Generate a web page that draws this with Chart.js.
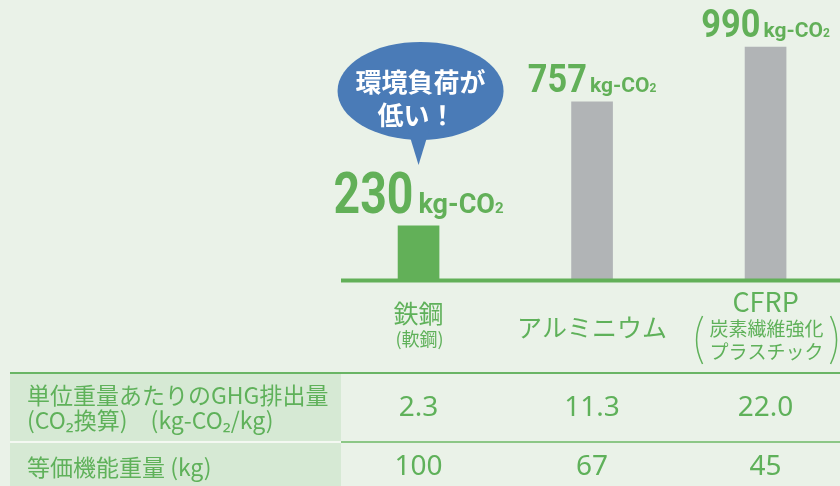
<!DOCTYPE html>
<html lang="ja">
<head>
<meta charset="utf-8">
<script src="https://cdn.jsdelivr.net/npm/chart.js@4"></script>
<style>
  html, body { margin: 0; padding: 0; background: #eaf2e8; }
  #wrap { position: relative; width: 840px; height: 486px; }
</style>
</head>
<body>
<div id="wrap"><canvas id="chart" width="840" height="486"></canvas></div>
<script>
const categories = ['鉄鋼', 'アルミニウム', 'CFRP'];
const categoryNotes = [['(軟鋼)'], [], ['炭素繊維強化', 'プラスチック']];
const emissions = [230, 757, 990];
const emissionUnit = 'kg-CO';
const rowTitles = [['単位重量あたりのGHG排出量', '(CO₂換算)\u3000(kg-CO₂/kg)'], ['等価機能重量 (kg)']];
const ghgPerKg = ['2.3', '11.3', '22.0'];
const equivWeight = ['100', '67', '45'];
const calloutText = ['環境負荷が', '低い！'];

(function () {
    /* ── Colours / fonts ───────────────────────────── */
    const GREEN = '#62b058';
    const GREY = '#b1b4b6';
    const TEXT = '#5fb15a';
    const BLUE = '#4a7bb7';
    const JP = '"Noto Sans CJK JP", "Noto Sans", sans-serif';
    const NUM = 'Roboto, "Noto Sans", sans-serif';

    function drawValue(ctx, x, baseY, value, big) {
        const numSize = big ? 58 : 39;
        const unitSize = big ? 27 : 21;
        const subSize = big ? 15 : 12;
        const squeeze = big ? 0.8 : 0.88;
        const gap = big ? 5 : 3;

        ctx.font = `bold ${numSize}px ${NUM}`;
        const numW = ctx.measureText(String(value)).width * squeeze;
        ctx.font = `bold ${unitSize}px ${NUM}`;
        const unitW = ctx.measureText(emissionUnit).width;
        ctx.font = `bold ${subSize}px ${NUM}`;
        const subW = ctx.measureText('2').width;

        let cx = x - (numW + gap + unitW + subW) / 2;
        ctx.fillStyle = GREEN;
        ctx.textAlign = 'left';
        ctx.textBaseline = 'alphabetic';

        ctx.save();
        ctx.translate(cx, baseY);
        ctx.scale(squeeze, 1);
        ctx.font = `bold ${numSize}px ${NUM}`;
        ctx.fillText(String(value), 0, 0);
        ctx.restore();
        cx += numW + gap;

        ctx.font = `bold ${unitSize}px ${NUM}`;
        ctx.fillText(emissionUnit, cx, baseY);
        cx += unitW;
        ctx.font = `bold ${subSize}px ${NUM}`;
        ctx.fillText('2', cx, baseY);
    }

    function drawCallout(ctx, tipX, tipY) {
        const cx = tipX + 2;
        const cy = tipY - 74;
        ctx.fillStyle = BLUE;
        ctx.beginPath();
        ctx.ellipse(cx, cy, 83, 49, 0, 0, Math.PI * 2);
        ctx.fill();
        ctx.beginPath();
        ctx.moveTo(tipX - 11, tipY - 36);
        ctx.lineTo(tipX + 11, tipY - 36);
        ctx.lineTo(tipX, tipY);
        ctx.closePath();
        ctx.fill();

        ctx.fillStyle = '#ffffff';
        ctx.textAlign = 'center';
        ctx.textBaseline = 'middle';
        ctx.font = `bold 26px ${JP}`;
        ctx.fillText(calloutText[0], cx, cy - 9);
        ctx.fillText(calloutText[1], cx - 4, cy + 24);
    }

    function drawParen(ctx, x, top, bottom, dir) {
        const mid = (top + bottom) / 2;
        ctx.beginPath();
        ctx.moveTo(x, top);
        ctx.quadraticCurveTo(x - dir * 12, mid, x, bottom);
        ctx.stroke();
    }

    const overlay = {
        id: 'overlay',
        afterDatasetsDraw(chart) {
            const { ctx, chartArea, scales } = chart;
            const xs = scales.x;
            const ys = scales.y;
            const base = ys.getPixelForValue(0);
            ctx.save();

            /* baseline */
            ctx.fillStyle = GREEN;
            ctx.fillRect(chartArea.left, base - 1.5, chartArea.right - chartArea.left, 4);

            /* values above bars */
            emissions.forEach((v, i) => {
                const x = xs.getPixelForValue(i);
                const top = ys.getPixelForValue(v);
                drawValue(ctx, x, top - (i === 0 ? 13 : 10), v, i === 0);
            });

            /* callout over lowest bar */
            const lowX = xs.getPixelForValue(0);
            drawCallout(ctx, lowX, ys.getPixelForValue(emissions[0]) - 61);

            /* category labels */
            ctx.textAlign = 'center';
            ctx.textBaseline = 'middle';
            ctx.fillStyle = TEXT;
            ctx.strokeStyle = TEXT;
            ctx.lineWidth = 1.5;
            categories.forEach((name, i) => {
                const x = xs.getPixelForValue(i);
                const notes = categoryNotes[i];
                const blockMid = base + 47;
                let y = blockMid;
                if (notes.length === 1) y = blockMid - 14;
                if (notes.length === 2) y = blockMid - 25;
                const latin = /^[A-Z]+$/.test(name);
                ctx.font = latin ? `27px ${JP}` : `25px ${JP}`;
                ctx.fillText(name, x, y);
                const noteSize = notes.length > 1 ? 19 : 18;
                ctx.font = `${noteSize}px ${JP}`;
                notes.forEach((n, k) => {
                    ctx.fillText(n, x + 1, y + 26.5 + k * 23.5);
                });
                if (notes.length > 1) {
                    const w = Math.max(...notes.map(n => ctx.measureText(n).width));
                    const t = y + 14;
                    const b = y + 62;
                    drawParen(ctx, x - w / 2 - 6, t, b, 1);
                    drawParen(ctx, x + w / 2 + 8, t, b, -1);
                }
            });

            /* table */
            const tTop = base + 93;
            const tDiv = base + 162;
            const colLeft = 10;
            const colRight = chartArea.left;
            ctx.fillStyle = '#d6e9d4';
            ctx.fillRect(colLeft, tTop, colRight - colLeft, chart.height - tTop);
            ctx.fillStyle = '#6ab565';
            ctx.fillRect(colLeft, tTop - 1, chart.width - colLeft, 2);
            ctx.fillStyle = '#f4f8f2';
            ctx.fillRect(colLeft, tDiv - 1, colRight - colLeft, 2);
            ctx.fillStyle = '#8cc786';
            ctx.fillRect(colRight, tDiv - 1, chart.width - colRight, 2);

            ctx.fillStyle = TEXT;
            ctx.textAlign = 'left';
            ctx.font = `23px ${JP}`;
            ctx.fillText(rowTitles[0][0], 27, tTop + 22);
            ctx.fillText(rowTitles[0][1], 27, tTop + 47);
            ctx.fillText(rowTitles[1][0], 27, tDiv + 25);

            ctx.textAlign = 'center';
            ctx.font = `28px "Noto Sans", ${JP}`;
            ghgPerKg.forEach((v, i) => ctx.fillText(v, xs.getPixelForValue(i), tTop + 35));
            equivWeight.forEach((v, i) => ctx.fillText(v, xs.getPixelForValue(i), tDiv + 25));

            ctx.restore();
        },
    };

    /* ── Bar chart ─────────────────────────────────── */
    const canvas = document.getElementById('chart');
    new Chart(canvas.getContext('2d'), {
        type: 'bar',
        data: {
            datasets: [{
                data: emissions.map((v, i) => ({ x: i, y: v })),
                backgroundColor: [GREEN, GREY, GREY],
                borderWidth: 0,
                barThickness: 41,
            }],
        },
        options: {
            responsive: false,
            animation: false,
            layout: {
                padding: { left: 341, right: 0, top: 0, bottom: 206 },
            },
            plugins: {
                legend: { display: false },
                tooltip: { enabled: false },
            },
            scales: {
                x: {
                    type: 'linear',
                    min: -0.447,
                    max: 2.429,
                    offset: false,
                    display: false,
                },
                y: {
                    min: 0,
                    max: 1190,
                    display: false,
                },
            },
        },
        plugins: [overlay],
    });
})();
</script>
</body>
</html>
